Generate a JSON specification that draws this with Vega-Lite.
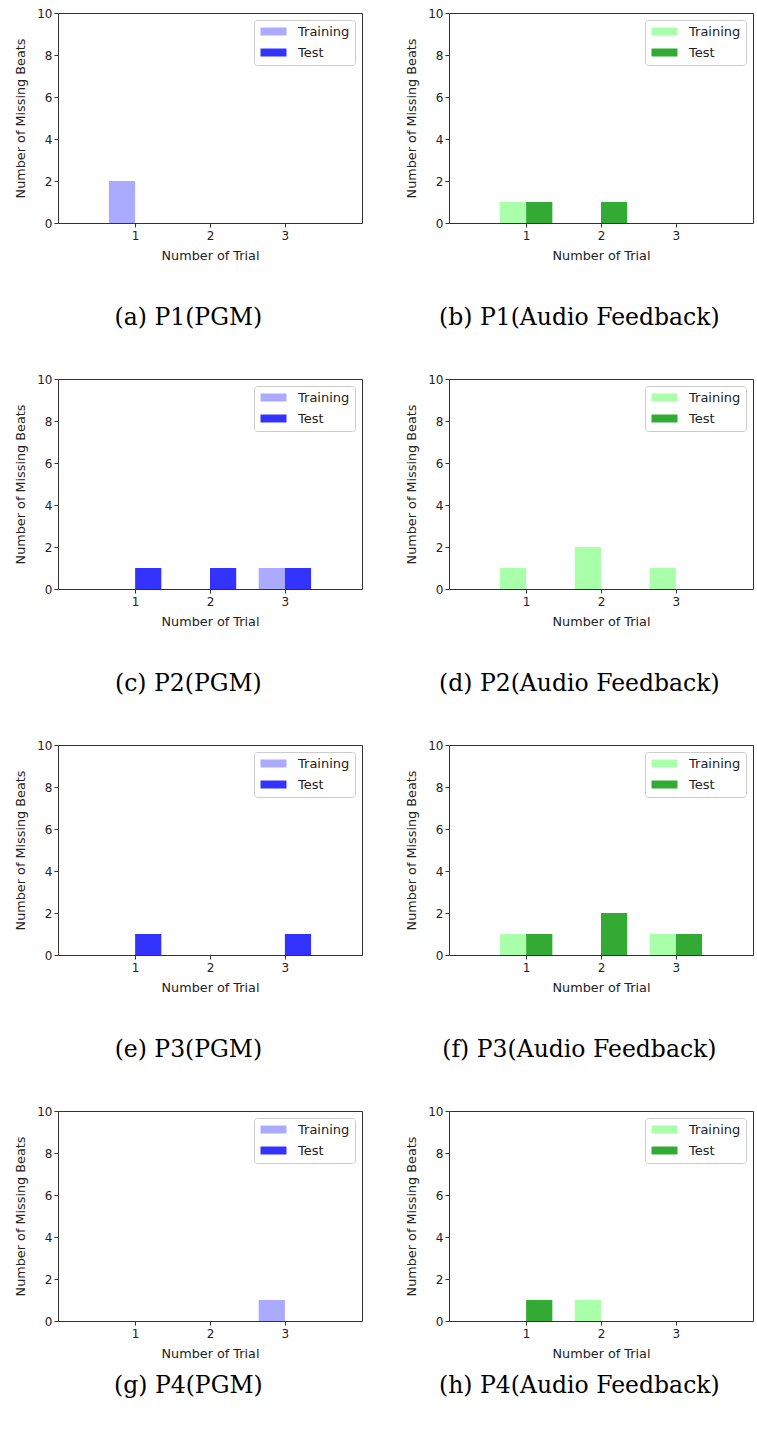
{
  "$schema": "https://vega.github.io/schema/vega-lite/v6.json",
  "background": "white",
  "padding": {"left": 14, "top": 6, "right": 6, "bottom": 5},
  "datasets": {
    "bars": [
      {"panel": "a", "trial": 1, "series": "Training", "value": 2},
      {"panel": "a", "trial": 2, "series": "Training", "value": 0},
      {"panel": "a", "trial": 3, "series": "Training", "value": 0},
      {"panel": "a", "trial": 1, "series": "Test", "value": 0},
      {"panel": "a", "trial": 2, "series": "Test", "value": 0},
      {"panel": "a", "trial": 3, "series": "Test", "value": 0},
      {"panel": "b", "trial": 1, "series": "Training", "value": 1},
      {"panel": "b", "trial": 2, "series": "Training", "value": 0},
      {"panel": "b", "trial": 3, "series": "Training", "value": 0},
      {"panel": "b", "trial": 1, "series": "Test", "value": 1},
      {"panel": "b", "trial": 2, "series": "Test", "value": 1},
      {"panel": "b", "trial": 3, "series": "Test", "value": 0},
      {"panel": "c", "trial": 1, "series": "Training", "value": 0},
      {"panel": "c", "trial": 2, "series": "Training", "value": 0},
      {"panel": "c", "trial": 3, "series": "Training", "value": 1},
      {"panel": "c", "trial": 1, "series": "Test", "value": 1},
      {"panel": "c", "trial": 2, "series": "Test", "value": 1},
      {"panel": "c", "trial": 3, "series": "Test", "value": 1},
      {"panel": "d", "trial": 1, "series": "Training", "value": 1},
      {"panel": "d", "trial": 2, "series": "Training", "value": 2},
      {"panel": "d", "trial": 3, "series": "Training", "value": 1},
      {"panel": "d", "trial": 1, "series": "Test", "value": 0},
      {"panel": "d", "trial": 2, "series": "Test", "value": 0},
      {"panel": "d", "trial": 3, "series": "Test", "value": 0},
      {"panel": "e", "trial": 1, "series": "Training", "value": 0},
      {"panel": "e", "trial": 2, "series": "Training", "value": 0},
      {"panel": "e", "trial": 3, "series": "Training", "value": 0},
      {"panel": "e", "trial": 1, "series": "Test", "value": 1},
      {"panel": "e", "trial": 2, "series": "Test", "value": 0},
      {"panel": "e", "trial": 3, "series": "Test", "value": 1},
      {"panel": "f", "trial": 1, "series": "Training", "value": 1},
      {"panel": "f", "trial": 2, "series": "Training", "value": 0},
      {"panel": "f", "trial": 3, "series": "Training", "value": 1},
      {"panel": "f", "trial": 1, "series": "Test", "value": 1},
      {"panel": "f", "trial": 2, "series": "Test", "value": 2},
      {"panel": "f", "trial": 3, "series": "Test", "value": 1},
      {"panel": "g", "trial": 1, "series": "Training", "value": 0},
      {"panel": "g", "trial": 2, "series": "Training", "value": 0},
      {"panel": "g", "trial": 3, "series": "Training", "value": 1},
      {"panel": "g", "trial": 1, "series": "Test", "value": 0},
      {"panel": "g", "trial": 2, "series": "Test", "value": 0},
      {"panel": "g", "trial": 3, "series": "Test", "value": 0},
      {"panel": "h", "trial": 1, "series": "Training", "value": 0},
      {"panel": "h", "trial": 2, "series": "Training", "value": 1},
      {"panel": "h", "trial": 3, "series": "Training", "value": 0},
      {"panel": "h", "trial": 1, "series": "Test", "value": 1},
      {"panel": "h", "trial": 2, "series": "Test", "value": 0},
      {"panel": "h", "trial": 3, "series": "Test", "value": 0}
    ]
  },
  "columns": 2,
  "spacing": {"column": 42, "row": 42},
  "resolve": {"scale": {"color": "independent", "x": "independent", "y": "independent"}, "legend": {"color": "independent"}},
  "concat": [
    {"title": "(a) P1(PGM)", "width": 304, "height": 210, "data": {"name": "bars"},
     "transform": [{"filter": "datum.panel == 'a'"}, {"calculate": "datum.series == 'Training' ? datum.trial - 0.35 : datum.trial", "as": "x0"}, {"calculate": "datum.x0 + 0.35", "as": "x1"}],
     "mark": {"type": "bar"},
     "encoding": {
       "x": {"field": "x0", "type": "quantitative", "scale": {"domain": [-0.03, 4.03], "nice": false, "zero": false}, "axis": {"values": [1, 2, 3], "title": "Number of Trial"}},
       "x2": {"field": "x1"},
       "y": {"field": "value", "type": "quantitative", "scale": {"domain": [0, 10], "nice": false}, "axis": {"values": [0, 2, 4, 6, 8, 10], "title": "Number of Missing Beats"}},
       "y2": {"datum": 0},
       "color": {"field": "series", "type": "nominal", "scale": {"domain": ["Training", "Test"], "range": ["#aaaaff", "#3333ff"]}, "legend": {"title": null}}
     }},
    {"title": "(b) P1(Audio Feedback)", "width": 304, "height": 210, "data": {"name": "bars"},
     "transform": [{"filter": "datum.panel == 'b'"}, {"calculate": "datum.series == 'Training' ? datum.trial - 0.35 : datum.trial", "as": "x0"}, {"calculate": "datum.x0 + 0.35", "as": "x1"}],
     "mark": {"type": "bar"},
     "encoding": {
       "x": {"field": "x0", "type": "quantitative", "scale": {"domain": [-0.03, 4.03], "nice": false, "zero": false}, "axis": {"values": [1, 2, 3], "title": "Number of Trial"}},
       "x2": {"field": "x1"},
       "y": {"field": "value", "type": "quantitative", "scale": {"domain": [0, 10], "nice": false}, "axis": {"values": [0, 2, 4, 6, 8, 10], "title": "Number of Missing Beats"}},
       "y2": {"datum": 0},
       "color": {"field": "series", "type": "nominal", "scale": {"domain": ["Training", "Test"], "range": ["#aaffaa", "#33aa33"]}, "legend": {"title": null}}
     }},
    {"title": "(c) P2(PGM)", "width": 304, "height": 210, "data": {"name": "bars"},
     "transform": [{"filter": "datum.panel == 'c'"}, {"calculate": "datum.series == 'Training' ? datum.trial - 0.35 : datum.trial", "as": "x0"}, {"calculate": "datum.x0 + 0.35", "as": "x1"}],
     "mark": {"type": "bar"},
     "encoding": {
       "x": {"field": "x0", "type": "quantitative", "scale": {"domain": [-0.03, 4.03], "nice": false, "zero": false}, "axis": {"values": [1, 2, 3], "title": "Number of Trial"}},
       "x2": {"field": "x1"},
       "y": {"field": "value", "type": "quantitative", "scale": {"domain": [0, 10], "nice": false}, "axis": {"values": [0, 2, 4, 6, 8, 10], "title": "Number of Missing Beats"}},
       "y2": {"datum": 0},
       "color": {"field": "series", "type": "nominal", "scale": {"domain": ["Training", "Test"], "range": ["#aaaaff", "#3333ff"]}, "legend": {"title": null}}
     }},
    {"title": "(d) P2(Audio Feedback)", "width": 304, "height": 210, "data": {"name": "bars"},
     "transform": [{"filter": "datum.panel == 'd'"}, {"calculate": "datum.series == 'Training' ? datum.trial - 0.35 : datum.trial", "as": "x0"}, {"calculate": "datum.x0 + 0.35", "as": "x1"}],
     "mark": {"type": "bar"},
     "encoding": {
       "x": {"field": "x0", "type": "quantitative", "scale": {"domain": [-0.03, 4.03], "nice": false, "zero": false}, "axis": {"values": [1, 2, 3], "title": "Number of Trial"}},
       "x2": {"field": "x1"},
       "y": {"field": "value", "type": "quantitative", "scale": {"domain": [0, 10], "nice": false}, "axis": {"values": [0, 2, 4, 6, 8, 10], "title": "Number of Missing Beats"}},
       "y2": {"datum": 0},
       "color": {"field": "series", "type": "nominal", "scale": {"domain": ["Training", "Test"], "range": ["#aaffaa", "#33aa33"]}, "legend": {"title": null}}
     }},
    {"title": "(e) P3(PGM)", "width": 304, "height": 210, "data": {"name": "bars"},
     "transform": [{"filter": "datum.panel == 'e'"}, {"calculate": "datum.series == 'Training' ? datum.trial - 0.35 : datum.trial", "as": "x0"}, {"calculate": "datum.x0 + 0.35", "as": "x1"}],
     "mark": {"type": "bar"},
     "encoding": {
       "x": {"field": "x0", "type": "quantitative", "scale": {"domain": [-0.03, 4.03], "nice": false, "zero": false}, "axis": {"values": [1, 2, 3], "title": "Number of Trial"}},
       "x2": {"field": "x1"},
       "y": {"field": "value", "type": "quantitative", "scale": {"domain": [0, 10], "nice": false}, "axis": {"values": [0, 2, 4, 6, 8, 10], "title": "Number of Missing Beats"}},
       "y2": {"datum": 0},
       "color": {"field": "series", "type": "nominal", "scale": {"domain": ["Training", "Test"], "range": ["#aaaaff", "#3333ff"]}, "legend": {"title": null}}
     }},
    {"title": "(f) P3(Audio Feedback)", "width": 304, "height": 210, "data": {"name": "bars"},
     "transform": [{"filter": "datum.panel == 'f'"}, {"calculate": "datum.series == 'Training' ? datum.trial - 0.35 : datum.trial", "as": "x0"}, {"calculate": "datum.x0 + 0.35", "as": "x1"}],
     "mark": {"type": "bar"},
     "encoding": {
       "x": {"field": "x0", "type": "quantitative", "scale": {"domain": [-0.03, 4.03], "nice": false, "zero": false}, "axis": {"values": [1, 2, 3], "title": "Number of Trial"}},
       "x2": {"field": "x1"},
       "y": {"field": "value", "type": "quantitative", "scale": {"domain": [0, 10], "nice": false}, "axis": {"values": [0, 2, 4, 6, 8, 10], "title": "Number of Missing Beats"}},
       "y2": {"datum": 0},
       "color": {"field": "series", "type": "nominal", "scale": {"domain": ["Training", "Test"], "range": ["#aaffaa", "#33aa33"]}, "legend": {"title": null}}
     }},
    {"title": {"text": "(g) P4(PGM)", "offset": 14}, "width": 304, "height": 210, "data": {"name": "bars"},
     "transform": [{"filter": "datum.panel == 'g'"}, {"calculate": "datum.series == 'Training' ? datum.trial - 0.35 : datum.trial", "as": "x0"}, {"calculate": "datum.x0 + 0.35", "as": "x1"}],
     "mark": {"type": "bar"},
     "encoding": {
       "x": {"field": "x0", "type": "quantitative", "scale": {"domain": [-0.03, 4.03], "nice": false, "zero": false}, "axis": {"values": [1, 2, 3], "title": "Number of Trial"}},
       "x2": {"field": "x1"},
       "y": {"field": "value", "type": "quantitative", "scale": {"domain": [0, 10], "nice": false}, "axis": {"values": [0, 2, 4, 6, 8, 10], "title": "Number of Missing Beats"}},
       "y2": {"datum": 0},
       "color": {"field": "series", "type": "nominal", "scale": {"domain": ["Training", "Test"], "range": ["#aaaaff", "#3333ff"]}, "legend": {"title": null}}
     }},
    {"title": {"text": "(h) P4(Audio Feedback)", "offset": 14}, "width": 304, "height": 210, "data": {"name": "bars"},
     "transform": [{"filter": "datum.panel == 'h'"}, {"calculate": "datum.series == 'Training' ? datum.trial - 0.35 : datum.trial", "as": "x0"}, {"calculate": "datum.x0 + 0.35", "as": "x1"}],
     "mark": {"type": "bar"},
     "encoding": {
       "x": {"field": "x0", "type": "quantitative", "scale": {"domain": [-0.03, 4.03], "nice": false, "zero": false}, "axis": {"values": [1, 2, 3], "title": "Number of Trial"}},
       "x2": {"field": "x1"},
       "y": {"field": "value", "type": "quantitative", "scale": {"domain": [0, 10], "nice": false}, "axis": {"values": [0, 2, 4, 6, 8, 10], "title": "Number of Missing Beats"}},
       "y2": {"datum": 0},
       "color": {"field": "series", "type": "nominal", "scale": {"domain": ["Training", "Test"], "range": ["#aaffaa", "#33aa33"]}, "legend": {"title": null}}
     }}
  ],
  "config": {
    "font": "DejaVu Sans",
    "view": {"stroke": "#333333", "strokeWidth": 1, "fill": "white"},
    "bar": {"strokeWidth": 0},
    "axis": {
      "grid": false,
      "domain": false,
      "ticks": true,
      "tickColor": "#333333",
      "tickSize": 4,
      "tickWidth": 1,
      "labelFont": "DejaVu Sans",
      "labelFontSize": 12,
      "labelColor": "#222222",
      "labelPadding": 2,
      "titleFont": "DejaVu Sans",
      "titleFontSize": 12.8,
      "titleFontWeight": "normal",
      "titleColor": "#222222"
    },
    "axisX": {"labelAngle": 0, "titlePadding": 8, "labelPadding": 3, "labelFlush": false},
    "axisY": {"titlePadding": 9, "labelFlush": false},
    "legend": {
      "orient": "top-right",
      "offset": 7,
      "fillColor": "white",
      "strokeColor": "#cccccc",
      "cornerRadius": 3,
      "padding": 5,
      "rowPadding": 7,
      "symbolType": "M-1,-0.8H4.2V0.8H-1Z",
      "symbolSize": 100,
      "symbolStrokeWidth": 0,
      "labelOffset": 26,
      "labelFont": "DejaVu Sans",
      "labelFontSize": 13,
      "labelColor": "#222222"
    },
    "title": {
      "orient": "bottom",
      "anchor": "middle",
      "frame": "bounds",
      "font": "DejaVu Serif",
      "fontSize": 23.5,
      "fontWeight": "normal",
      "color": "#000000",
      "offset": 44
    }
  }
}
